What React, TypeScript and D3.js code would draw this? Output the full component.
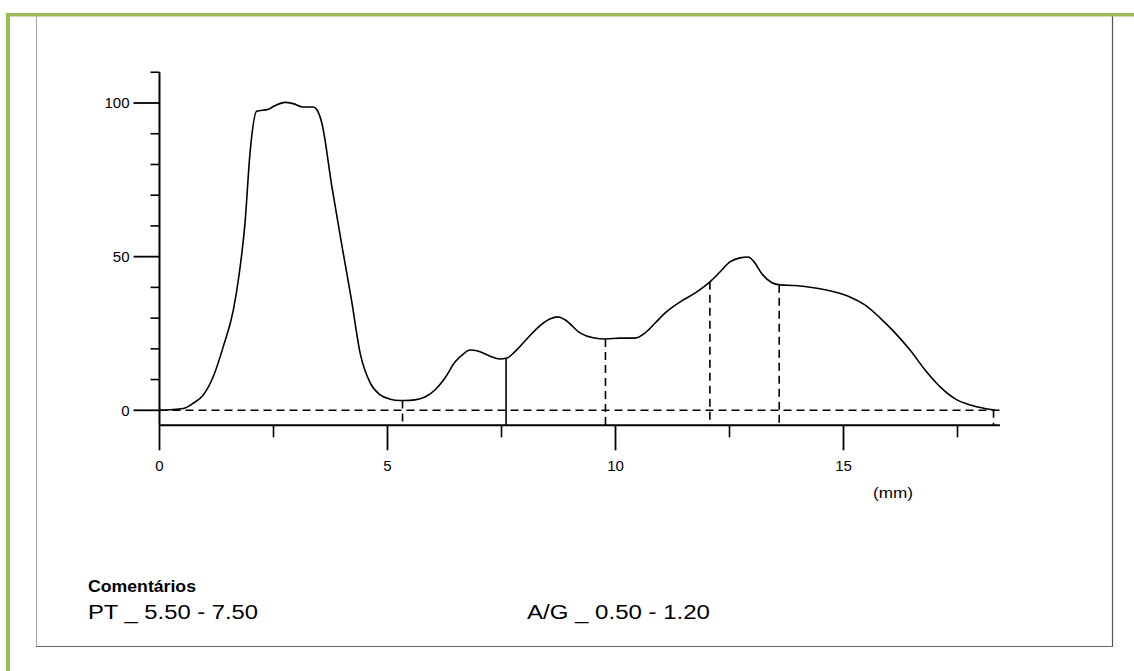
import React, { useEffect, useRef } from 'react';
import * as d3 from 'd3';

// densitometry curve (mm, relative %)
const curveMm = [
  0, 0.52, 0.74, 0.96, 1.18, 1.4, 1.62, 1.75, 1.875, 1.985, 2.13, 2.39, 2.53, 2.75, 2.93, 3.15, 3.37, 3.45,
  3.56, 3.78, 4.03, 4.21, 4.4, 4.62, 4.84, 5.06, 5.27, 5.38, 5.6, 5.82, 6.04, 6.26, 6.48, 6.66, 6.81, 6.98,
  7.24, 7.46, 7.62, 7.79, 8.08, 8.34, 8.56, 8.74, 8.9, 9.22, 9.51, 9.79, 10.1, 10.43, 10.65, 10.87, 11.09,
  11.42, 11.75, 12.07, 12.29, 12.51, 12.73, 12.91, 13.04, 13.21, 13.43, 13.61, 13.94, 14.38, 14.81, 15.14,
  15.47, 15.8, 16.13, 16.46, 16.79, 17.12, 17.45, 17.78, 18.1, 18.32,
];
const curveValues = [
  0, 0.6, 2.3, 5.0, 11.0, 20.8, 32.7, 44.6, 60.9, 83.7, 97.3, 98.0, 99.1, 100.2, 99.8, 98.7, 98.7, 97.8,
  93.5, 72.8, 51.1, 35.9, 18.6, 8.9, 5.0, 3.6, 3.2, 3.2, 3.4, 4.3, 6.6, 10.5, 15.7, 18.3, 19.6, 19.3,
  17.7, 16.7, 17.0, 19.0, 23.6, 27.5, 29.7, 30.4, 29.4, 25.2, 23.6, 23.2, 23.5, 23.5, 25.2, 28.4, 31.7,
  35.3, 38.2, 41.8, 45.0, 48.3, 49.6, 49.9, 48.3, 44.4, 41.5, 40.8, 40.6, 39.8, 38.5, 36.9,
  34.3, 30.1, 25.2, 19.6, 13.1, 7.6, 3.7, 1.7, 0.6, 0.1,
];

// fraction boundaries (mm) and whether they are drawn dashed
const boundaryMm = [5.33, 7.6, 9.78, 12.07, 13.59, 18.29];
const boundaryDashed = [true, false, true, true, true, true];

const xMajorTicks = [0, 5, 10, 15];
const xMinorTicks = [2.5, 7.5, 12.5, 17.5];
const yMajorTicks = [0, 50, 100];
const yMinorTicks = [10, 20, 30, 40, 60, 70, 80, 90, 110];
const xAxisMax = 18.43;
const yAxisMax = 110;

const commentTitle = 'Comentários';
const commentLeft = 'PT _ 5.50 - 7.50';
const commentRight = 'A/G _ 0.50 - 1.20';
const unitLabel = '(mm)';

const W = 1134;
const H = 671;
const FONT = '"Liberation Sans", Arial, Helvetica, sans-serif';

const App = () => {
  const svgRef = useRef<SVGSVGElement>(null);

  useEffect(() => {
    const svg = d3.select(svgRef.current);
    svg.selectAll('*').remove();

    const x = d3.scaleLinear().domain([0, 15]).range([159.5, 843.5]);
    const y = d3.scaleLinear().domain([0, 100]).range([410.3, 103]);
    const axisY = y(0) + 15;
    const axisX = x(0);

    // frame
    svg.append('rect').attr('x', 0).attr('y', 0).attr('width', W).attr('height', H).attr('fill', '#fff');
    svg.append('line').attr('x1', 36.5).attr('x2', 36.5).attr('y1', 16).attr('y2', 646)
      .attr('stroke', '#a6a6a6').attr('stroke-width', 1);
    svg.append('line').attr('x1', 1112.5).attr('x2', 1112.5).attr('y1', 16).attr('y2', 646)
      .attr('stroke', '#555').attr('stroke-width', 1.2);
    svg.append('line').attr('x1', 36).attr('x2', 1113).attr('y1', 646.5).attr('y2', 646.5)
      .attr('stroke', '#666').attr('stroke-width', 1.2);
    svg.append('rect').attr('x', 6).attr('y', 13).attr('width', W - 6).attr('height', 3.5).attr('fill', '#9bbb59');
    svg.append('rect').attr('x', 6).attr('y', 13).attr('width', 4).attr('height', H - 13).attr('fill', '#9bbb59');

    const g = svg.append('g');

    // zero baseline
    g.append('line')
      .attr('x1', axisX).attr('x2', x(xAxisMax))
      .attr('y1', y(0)).attr('y2', y(0))
      .attr('stroke', '#000').attr('stroke-width', 1.4).attr('stroke-dasharray', '8,5');

    // boundaries between fractions
    const valueAt = (mm: number) => {
      const i = d3.bisector((d: number) => d).left(curveMm, mm);
      if (i <= 0) return curveValues[0];
      if (i >= curveMm.length) return curveValues[curveValues.length - 1];
      const t = (mm - curveMm[i - 1]) / (curveMm[i] - curveMm[i - 1]);
      return curveValues[i - 1] + t * (curveValues[i] - curveValues[i - 1]);
    };
    g.selectAll('.boundary')
      .data(boundaryMm)
      .enter()
      .append('line')
      .attr('class', 'boundary')
      .attr('x1', d => x(d)).attr('x2', d => x(d))
      .attr('y1', d => y(valueAt(d))).attr('y2', axisY)
      .attr('stroke', '#000').attr('stroke-width', 1.6)
      .attr('stroke-dasharray', (d, i) => (boundaryDashed[i] ? '8,5' : null));

    // curve
    const line = d3.line<number>()
      .x((d, i) => x(curveMm[i]))
      .y(d => y(d))
      .curve(d3.curveMonotoneX);
    g.append('path')
      .datum(curveValues)
      .attr('d', line)
      .attr('fill', 'none')
      .attr('stroke', '#000')
      .attr('stroke-width', 1.6);

    // y axis
    g.append('line').attr('x1', axisX).attr('x2', axisX).attr('y1', y(yAxisMax)).attr('y2', axisY)
      .attr('stroke', '#000').attr('stroke-width', 2);
    g.selectAll('.ymin').data(yMinorTicks).enter().append('line')
      .attr('x1', axisX - 9).attr('x2', axisX).attr('y1', d => y(d)).attr('y2', d => y(d))
      .attr('stroke', '#000').attr('stroke-width', 1.6);
    g.selectAll('.ymaj').data(yMajorTicks).enter().append('line')
      .attr('x1', axisX - 26).attr('x2', axisX).attr('y1', d => y(d)).attr('y2', d => y(d))
      .attr('stroke', '#000').attr('stroke-width', 1.8);
    g.selectAll('.ylab').data(yMajorTicks).enter().append('text')
      .attr('x', axisX - 30).attr('y', d => y(d)).attr('dy', '0.36em')
      .attr('text-anchor', 'end').style('font-family', FONT).style('font-size', '15px')
      .text(d => String(d));

    // x axis
    g.append('line').attr('x1', axisX).attr('x2', x(xAxisMax)).attr('y1', axisY).attr('y2', axisY)
      .attr('stroke', '#000').attr('stroke-width', 2);
    g.selectAll('.xmaj').data(xMajorTicks).enter().append('line')
      .attr('x1', d => x(d)).attr('x2', d => x(d)).attr('y1', axisY).attr('y2', axisY + 25)
      .attr('stroke', '#000').attr('stroke-width', 1.8);
    g.selectAll('.xmin').data(xMinorTicks).enter().append('line')
      .attr('x1', d => x(d)).attr('x2', d => x(d)).attr('y1', axisY).attr('y2', axisY + 12)
      .attr('stroke', '#000').attr('stroke-width', 1.6);
    g.selectAll('.xlab').data(xMajorTicks).enter().append('text')
      .attr('x', d => x(d)).attr('y', axisY + 46)
      .attr('text-anchor', 'middle').style('font-family', FONT).style('font-size', '15px')
      .text(d => String(d));
    g.append('text').attr('x', 873).attr('y', 498)
      .attr('textLength', 40).attr('lengthAdjust', 'spacingAndGlyphs')
      .style('font-family', FONT).style('font-size', '15px').text(unitLabel);

    // comments
    g.append('text').attr('x', 88).attr('y', 592)
      .attr('textLength', 108).attr('lengthAdjust', 'spacingAndGlyphs')
      .style('font-family', FONT).style('font-size', '17px').style('font-weight', 'bold').text(commentTitle);
    g.append('text').attr('x', 88).attr('y', 619)
      .attr('textLength', 170).attr('lengthAdjust', 'spacingAndGlyphs')
      .style('font-family', FONT).style('font-size', '20px').text(commentLeft);
    g.append('text').attr('x', 527).attr('y', 619)
      .attr('textLength', 183).attr('lengthAdjust', 'spacingAndGlyphs')
      .style('font-family', FONT).style('font-size', '20px').text(commentRight);
  }, []);

  return (
    <svg ref={svgRef} width={W} height={H} style={{ position: 'absolute', left: 0, top: 0 }} />
  );
};

export default App;
